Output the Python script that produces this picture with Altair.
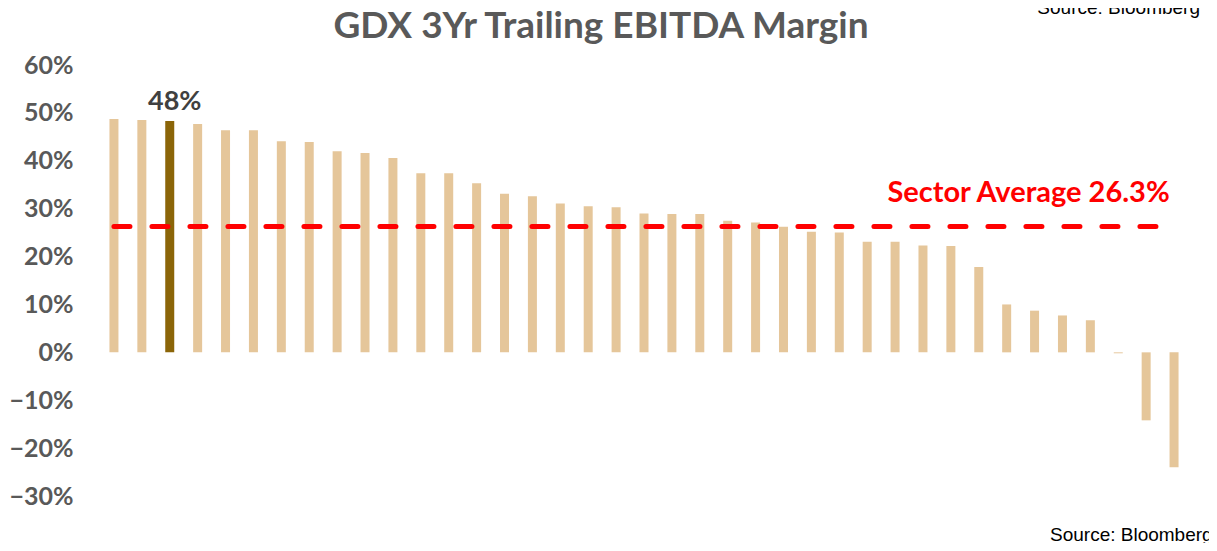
import altair as alt
import pandas as pd

# ---- data ----
companies = [f"C{i:02d}" for i in range(1, 40)]
margins_pct = [48.7, 48.5, 48.3, 47.7, 46.4, 46.4, 44.1, 43.9, 42.0, 41.6,
               40.6, 37.4, 37.4, 35.3, 33.1, 32.6, 31.1, 30.5, 30.3, 29.0,
               28.9, 28.9, 27.5, 27.1, 26.2, 25.2, 25.0, 23.1, 23.1, 22.3,
               22.2, 17.8, 10.0, 8.7, 7.7, 6.7, -0.2, -14.2, -24.0]
highlight = "C03"
highlight_label = "48%"
sector_avg_pct = 26.3
sector_label = "Sector Average 26.3%"
y_ticks_pct = [-30, -20, -10, 0, 10, 20, 30, 40, 50, 60]
title_text = "GDX 3Yr Trailing EBITDA Margin"
source_text = "Source: Bloomberg"

df = pd.DataFrame({"company": companies, "margin": [m / 100 for m in margins_pct]})
avg_df = pd.DataFrame({"start": [companies[0]], "end": [companies[-1]],
                       "avg": [sector_avg_pct / 100], "label": [sector_label],
                       "anchor": [companies[33]]})
hl_df = df[df.company == highlight].assign(label=highlight_label)

FONT = "Lato"
GRAY = "#595959"

x_enc = alt.X("company:N", sort=companies, axis=None,
              scale=alt.Scale(paddingInner=0, paddingOuter=0))
y_scale = alt.Scale(domain=[-0.3, 0.6], nice=False, zero=False)
y_axis = alt.Axis(values=[v / 100 for v in y_ticks_pct], format=".0%", grid=False,
                  domain=False, ticks=False, labelFont=FONT, labelFontSize=25,
                  labelFontWeight="bold", labelColor=GRAY, labelPadding=27,
                  title=None)

bars = alt.Chart(df).mark_bar(size=9).encode(
    x=x_enc,
    y=alt.Y("margin:Q", scale=y_scale, axis=y_axis),
    color=alt.condition(alt.datum.company == highlight,
                        alt.value("#8B6508"), alt.value("#E5C69A")),
)

avg_line = alt.Chart(avg_df).mark_rule(
    color="#FF0000", strokeWidth=5, strokeDash=[16, 22], strokeCap="round"
).encode(
    x=alt.X("start:N", sort=companies),
    x2="end:N",
    y=alt.Y("avg:Q"),
)

avg_text = alt.Chart(avg_df).mark_text(
    font=FONT, fontSize=29, fontWeight="bold", color="#FF0000",
    align="center", baseline="alphabetic", dx=-6, dy=-24,
).encode(x=alt.X("anchor:N", sort=companies), y="avg:Q", text="label:N")

hl_text = alt.Chart(hl_df).mark_text(
    font=FONT, fontSize=27, fontWeight="bold", color="#404040",
    align="center", baseline="alphabetic", dx=5, dy=-11,
).encode(x=alt.X("company:N", sort=companies), y="margin:Q", text="label:N")

title = alt.Chart(pd.DataFrame({"t": [title_text]})).mark_text(
    font=FONT, fontSize=37, fontWeight="bold", color=GRAY,
    align="center", baseline="middle",
).encode(x=alt.value(501), y=alt.value(-38), text="t:N")

src_top = alt.Chart(pd.DataFrame({"t": [source_text]})).mark_text(
    font="Liberation Sans", fontSize=19, color="#000000",
    align="right", baseline="alphabetic",
).encode(x=alt.value(1100), y=alt.value(-51), text="t:N")

src_bottom = alt.Chart(pd.DataFrame({"t": [source_text]})).mark_text(
    font="Liberation Sans", fontSize=19, color="#000000",
    align="left", baseline="alphabetic",
).encode(x=alt.value(950), y=alt.value(476), text="t:N")

chart = alt.layer(bars, avg_line, avg_text, hl_text, title, src_top, src_bottom).properties(
    width=1088, height=431,
    autosize=alt.AutoSizeParams(type="none"),
    padding={"left": 92, "top": 57, "right": 21, "bottom": 47},
    background="white",
).configure_view(stroke=None)

chart.save("out.html", embed_options={"renderer": "svg", "actions": False})
